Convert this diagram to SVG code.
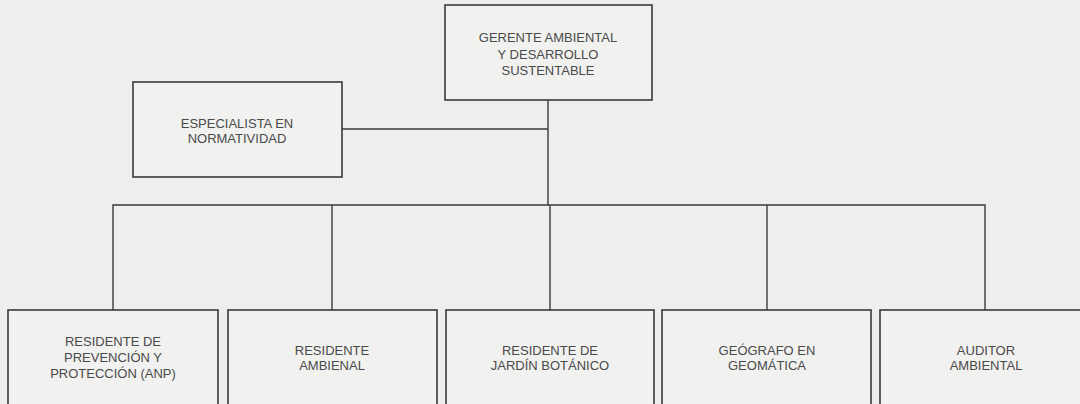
<svg xmlns="http://www.w3.org/2000/svg" width="1080" height="404" viewBox="0 0 1080 404">
<style>
.box{fill:#f1f1f0;stroke:#3a3a3a;stroke-width:1.6}
.lbl{font-family:"Liberation Sans",Arial,sans-serif;font-size:13px;fill:#4a4a4a;text-anchor:middle}
.con{fill:none;stroke:#3a3a3a;stroke-width:1.4}
</style>
<rect width="1080" height="404" fill="#eeeeed"/>
<g id="connectors">
<path class="con" d="M548,100 V205"/>
<path class="con" d="M342,129 H548"/>
<path class="con" d="M113,310 V205 H985 V310"/>
<path class="con" d="M332,205 V310"/>
<path class="con" d="M550,205 V310"/>
<path class="con" d="M767,205 V310"/>
</g>
<g id="gerente">
<rect class="box" x="445" y="5" width="207" height="95"/>
<text class="lbl" x="548" y="42">GERENTE AMBIENTAL</text>
<text class="lbl" x="548" y="59">Y DESARROLLO</text>
<text class="lbl" x="548" y="75">SUSTENTABLE</text>
</g>
<g id="especialista">
<rect class="box" x="133" y="82" width="209" height="95"/>
<text class="lbl" x="237" y="128">ESPECIALISTA EN</text>
<text class="lbl" x="237" y="143">NORMATIVIDAD</text>
</g>
<g id="residente-prevencion">
<rect class="box" x="8" y="310" width="210" height="100"/>
<text class="lbl" x="113" y="346">RESIDENTE DE</text>
<text class="lbl" x="113" y="362">PREVENCIÓN Y</text>
<text class="lbl" x="113" y="378">PROTECCIÓN (ANP)</text>
</g>
<g id="residente-ambienal">
<rect class="box" x="228" y="310" width="209" height="100"/>
<text class="lbl" x="332" y="355">RESIDENTE</text>
<text class="lbl" x="332" y="370">AMBIENAL</text>
</g>
<g id="residente-jardin">
<rect class="box" x="446" y="310" width="208" height="100"/>
<text class="lbl" x="550" y="355">RESIDENTE DE</text>
<text class="lbl" x="550" y="370">JARDÍN BOTÁNICO</text>
</g>
<g id="geografo">
<rect class="box" x="662" y="310" width="209" height="100"/>
<text class="lbl" x="767" y="355">GEÓGRAFO EN</text>
<text class="lbl" x="767" y="370">GEOMÁTICA</text>
</g>
<g id="auditor">
<rect class="box" x="880" y="310" width="210" height="100"/>
<text class="lbl" x="986" y="355">AUDITOR</text>
<text class="lbl" x="986" y="370">AMBIENTAL</text>
</g>
</svg>
